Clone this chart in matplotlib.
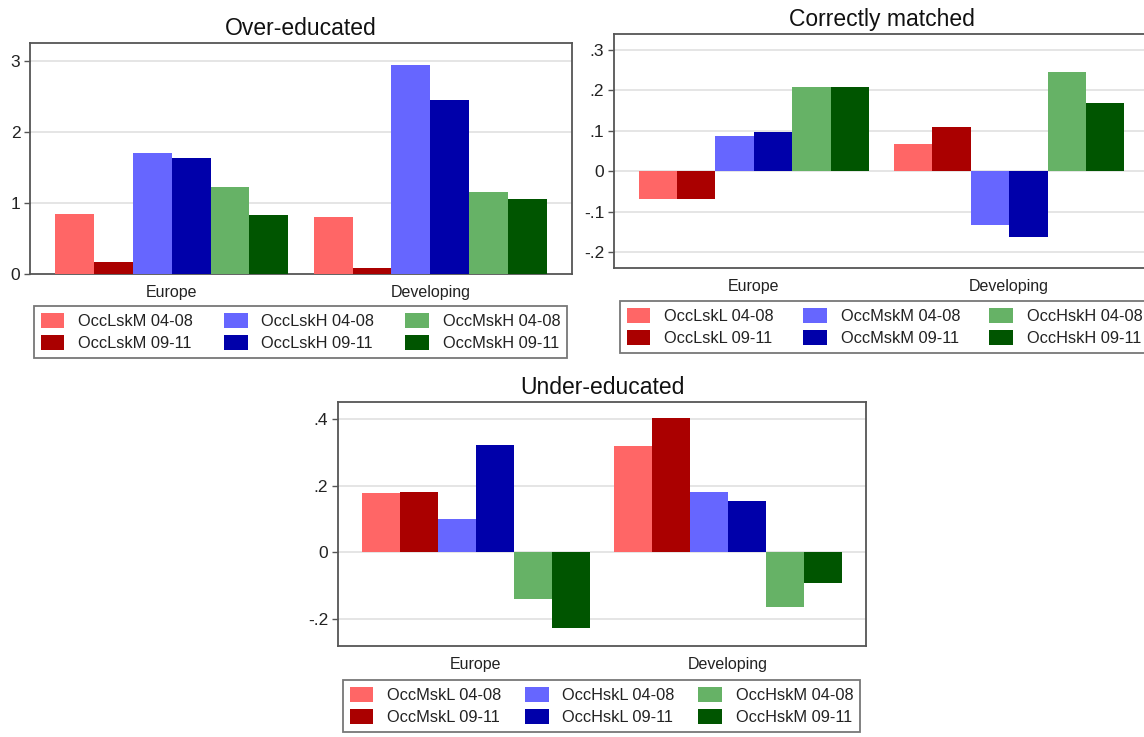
import matplotlib.pyplot as plt
from matplotlib.patches import Patch

plt.rcParams['font.family'] = ['Liberation Sans', 'DejaVu Sans']

# data
regions = ['Europe', 'Developing']
periods = ['04-08', '09-11']

over_vars = ['OccLskM', 'OccLskH', 'OccMskH']
over_vals = [[0.85, 0.80], [0.17, 0.08],
             [1.70, 2.95], [1.63, 2.45],
             [1.22, 1.16], [0.83, 1.05]]
over_ticks = [0, 1, 2, 3]
over_ticklabels = ['0', '1', '2', '3']

match_vars = ['OccLskL', 'OccMskM', 'OccHskH']
match_vals = [[-0.070, 0.067], [-0.070, 0.109],
              [0.086, -0.133], [0.098, -0.163],
              [0.208, 0.245], [0.208, 0.170]]
match_ticks = [-0.2, -0.1, 0, 0.1, 0.2, 0.3]
match_ticklabels = ['-.2', '-.1', '0', '.1', '.2', '.3']

under_vars = ['OccMskL', 'OccHskL', 'OccHskM']
under_vals = [[0.177, 0.318], [0.180, 0.401],
              [0.101, 0.180], [0.321, 0.155],
              [-0.138, -0.163], [-0.226, -0.093]]
under_ticks = [-0.2, 0, 0.2, 0.4]
under_ticklabels = ['-.2', '0', '.2', '.4']

colors = ['#ff6666', '#aa0000', '#6666ff', '#0000aa', '#66b266', '#005500']

W, H = 1144, 737
fig = plt.figure(figsize=(W / 100, H / 100), dpi=100)


def px_rect(l, t, r, b):
    return [l / W, 1 - b / H, (r - l) / W, (b - t) / H]


bw = 1 / 6.65
margin = 0.64 * bw


def panel(rect, title, names, vals, ylim, ticks, ticklabels, leg_rect, grid_zero=True):
    ax = fig.add_axes(px_rect(*rect))
    ax.set_facecolor('white')
    for i, series in enumerate(vals):
        xs = [g - 2.5 * bw + i * bw for g in range(len(regions))]
        ax.bar(xs, series, width=bw, color=colors[i], linewidth=0, zorder=3)
    ax.set_xlim(-3 * bw - margin, 1 + 3 * bw + margin)
    ax.set_ylim(*ylim)
    ax.set_yticks(ticks)
    ax.set_yticklabels(ticklabels)
    ax.set_xticks(range(len(regions)))
    ax.set_xticklabels(regions)
    ax.tick_params(axis='x', length=0, pad=8, labelsize=11.5, colors='#222222')
    ax.tick_params(axis='y', length=4, width=1, pad=3, labelsize=12.5,
                   colors='#555555', labelcolor='#222222')
    for t in ticks:
        if t == 0 and not grid_zero:
            continue
        ax.axhline(t, color='#e3e3e3', lw=1.3, zorder=1)
    for s in ax.spines.values():
        s.set_color('#555555')
        s.set_linewidth(1.3)
    ax.set_title(title, fontsize=16.5, pad=6, color='#111111')

    labels = []
    for n in names:
        for p in periods:
            labels.append(f'{n} {p}')
    handles = [Patch(facecolor=c, edgecolor='none') for c in colors]
    l, t, r, b = leg_rect
    leg = fig.legend(handles, labels, ncol=3, mode='expand', loc='upper left',
                     bbox_to_anchor=(l / W, 1 - b / H, (r - l) / W, (b - t) / H),
                     bbox_transform=fig.transFigure, borderaxespad=0,
                     fontsize=11.8, frameon=True, fancybox=False,
                     handlelength=1.45, handleheight=1.1, handletextpad=0.85,
                     labelspacing=0.35, borderpad=0.4, columnspacing=1.0)
    leg.get_frame().set_edgecolor('#555555')
    leg.get_frame().set_linewidth(1.3)
    for txt in leg.get_texts():
        txt.set_color('#222222')
    return ax


panel((30, 43, 572, 274), 'Over-educated', over_vars, over_vals,
      (0, 3.254), over_ticks, over_ticklabels, (34, 306, 567, 357), grid_zero=False)
panel((614, 34, 1149, 268), 'Correctly matched', match_vars, match_vals,
      (-0.240, 0.340), match_ticks, match_ticklabels, (620, 301, 1149, 352))
panel((338, 402, 866, 646), 'Under-educated', under_vars, under_vals,
      (-0.280, 0.450), under_ticks, under_ticklabels, (343, 680, 860, 731))

fig.savefig('out.png', dpi=100, facecolor='white')
